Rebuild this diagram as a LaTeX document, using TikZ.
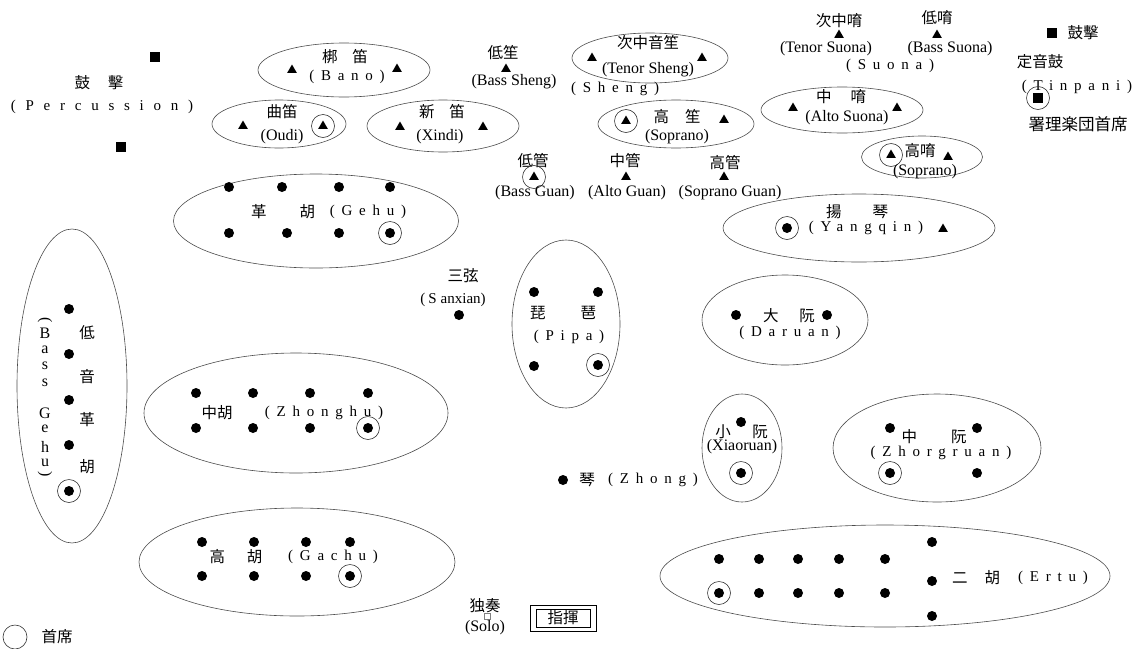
\documentclass[tikz,border=0pt]{standalone}
\usepackage{fontspec}
\setmainfont{Liberation Serif}
\newfontfamily\cjk{Noto Sans CJK JP}
\newfontfamily\lsf{Liberation Serif}[LetterSpace=45]
\newfontfamily\lsfw{Liberation Serif}[LetterSpace=65]
\usetikzlibrary{shapes.geometric}
\begin{document}
\begin{tikzpicture}[x=1pt,y=-1pt,
  ell/.style={draw=black!70, line width=0.6pt, ellipse, inner sep=0pt},
  dot/.style={circle, fill=black, inner sep=0pt, minimum size=10pt},
  tri/.style={regular polygon, regular polygon sides=3, fill=black, inner sep=0pt, minimum size=11pt},
  sq/.style={rectangle, fill=black, inner sep=0pt, minimum size=9.5pt},
  chair/.style={circle, draw=black!80, line width=0.6pt, inner sep=0pt, minimum size=23pt},
  cn/.style={font=\cjk\fontsize{15.5}{15.5}\selectfont, inner sep=0pt},
  en/.style={font=\fontsize{16}{16}\selectfont, inner sep=0pt},
  ls/.style={font=\lsf\fontsize{15}{15}\selectfont, inner sep=0pt},
  lsw/.style={font=\lsfw\fontsize{15}{15}\selectfont, inner sep=0pt},
]
\useasboundingbox (0,0) rectangle (1142,648);
% Percussion (left)
\node[sq] (pq1) at (155,57) {};
\node[cn] (pqcn) at (99,83) {鼓\hspace{18pt}擊};
\node[lsw] (pqen) at (102,107) {(Percussion)};
\node[sq] (pq2) at (121,147) {};
% Bano
\node[ell, minimum width=172pt, minimum height=54pt] (bano) at (344,70) {};
\node[cn] (banocn) at (345,57) {梆\hspace{15pt}笛};
\node[tri] (banot1) at (292,70) {};
\node[tri] (banot2) at (397,69) {};
\node[ls] (banoen) at (347,77) {(Bano)};
% Oudi
\node[ell, minimum width=134pt, minimum height=48pt] (oudi) at (279,124) {};
\node[cn] (oudicn) at (282,112) {曲笛};
\node[tri] (oudit1) at (243,126) {};
\node[en] (oudien) at (282,137) {(Oudi)};
\node[chair] (oudich) at (323,126) {};
\node[tri] (oudit2) at (323,126) {};
% Xindi
\node[ell, minimum width=152pt, minimum height=52pt] (xindi) at (443,126) {};
\node[cn] (xindicn) at (442,112) {新\hspace{15pt}笛};
\node[tri] (xindit1) at (400,127) {};
\node[tri] (xindit2) at (483,127) {};
\node[en] (xindien) at (440,137) {(Xindi)};
% Bass Sheng
\node[cn] (bshcn) at (503,53) {低笙};
\node[tri] (bsht) at (506,69) {};
\node[en] (bshen) at (514,82) {(Bass Sheng)};
% Tenor Sheng
\node[ell, minimum width=156pt, minimum height=50pt] (tsh) at (650,58) {};
\node[cn] (tshcn) at (648,43) {次中音笙};
\node[tri] (tsht1) at (592,58) {};
\node[tri] (tsht2) at (702,58) {};
\node[en] (tshen) at (648,70) {(Tenor Sheng)};
\node[ls] (sheng) at (615,89) {(Sheng)};
% Soprano Sheng
\node[ell, minimum width=156pt, minimum height=48pt] (ssh) at (676,124) {};
\node[chair] (sshch) at (626,121) {};
\node[tri] (ssht1) at (626,121) {};
\node[cn] (sshcn) at (677,117) {高\hspace{16pt}笙};
\node[tri] (ssht2) at (724,120) {};
\node[en] (sshen) at (677,137) {(Soprano)};
% Guan
\node[cn] (bgncn) at (533,161) {低管};
\node[chair] (bgnch) at (534,177) {};
\node[tri] (bgnt) at (534,177) {};
\node[en] (bgnen) at (535,193) {(Bass Guan)};
\node[cn] (agncn) at (625,161) {中管};
\node[tri] (agnt) at (626,177) {};
\node[en] (agnen) at (627,193) {(Alto Guan)};
\node[cn] (sgncn) at (725,163) {高管};
\node[tri] (sgnt) at (724,177) {};
\node[en] (sgnen) at (730,193) {(Soprano Guan)};
% Suona
\node[cn] (tsncn) at (839,21) {次中唷};
\node[tri] (tsnt) at (839,35) {};
\node[en] (tsnen) at (826,49) {(Tenor Suona)};
\node[cn] (bsncn) at (937,18) {低唷};
\node[tri] (bsnt) at (937,35) {};
\node[en] (bsnen) at (950,49) {(Bass Suona)};
\node[ls] (suona) at (890,66) {(Suona)};
\node[ell, minimum width=162pt, minimum height=46pt] (asn) at (842,110) {};
\node[cn] (asncn) at (841,97) {中\hspace{19pt}唷};
\node[tri] (asnt1) at (793,108) {};
\node[tri] (asnt2) at (897,108) {};
\node[en] (asnen) at (847,118) {(Alto Suona)};
\node[ell, minimum width=121pt, minimum height=42pt] (ssn) at (922,157) {};
\node[chair] (ssnch) at (891,155) {};
\node[tri] (ssnt1) at (891,155) {};
\node[cn] (ssncn) at (920,151) {高唷};
\node[tri] (ssnt2) at (948,157) {};
\node[en] (ssnen) at (925,172) {(Soprano)};
% Timpani
\node[sq] (pq3) at (1052,33) {};
\node[cn] (pq3cn) at (1083,33) {鼓擊};
\node[cn] (tmpcn) at (1040,62) {定音鼓};
\node[ls] (tmpen) at (1077,87) {(Tinpani)};
\node[chair] (tmpch) at (1038,98) {};
\node[sq] (tmpsq) at (1038,98) {};
\node[cn, font=\cjk\fontsize{16.5}{16.5}\selectfont] (tmpldr) at (1078,124) {署理楽団首席};
% Gehu
\node[ell, minimum width=285pt, minimum height=94pt] (gehu) at (316,221) {};
\foreach \x [count=\i] in {229,282,339,390} \node[dot] (gehua\i) at (\x,187) {};
\foreach \x [count=\i] in {229,287,339,390} \node[dot] (gehub\i) at (\x,233) {};
\node[chair] (gehuch) at (390,233) {};
\node[cn] (gehucn) at (283,212) {革\hspace{33pt}胡};
\node[ls] (gehuen) at (368,212) {(Gehu)};
% Yangqin
\node[ell, minimum width=272pt, minimum height=68pt] (yq) at (859,228) {};
\node[cn] (yqcn) at (857,212) {揚\hspace{31pt}琴};
\node[chair] (yqch) at (787,228) {};
\node[dot] (yqd) at (787,228) {};
\node[ls] (yqen) at (866,228) {(Yangqin)};
\node[tri] (yqt) at (943,229) {};
% Bass Gehu
\node[ell, minimum width=110pt, minimum height=314pt] (bgh) at (72,386) {};
\foreach \y [count=\i] in {309,354,400,445,491} \node[dot] (bghd\i) at (69,\y) {};
\node[chair] (bghch) at (69,491) {};
\foreach \c/\y [count=\i] in {低/333,音/377,革/420,胡/467} \node[cn] (bghc\i) at (87,\y) {\c};
\foreach \c/\y [count=\i] in {B/333,a/350,s/366,s/383,G/413,e/429,h/447,u/463} \node[ls, font=\fontsize{16}{16}\selectfont] (bghl\i) at (45,\y) {\c};
\node[ls, font=\fontsize{16}{16}\selectfont, rotate=-90] (bghp1) at (45,320) {(};
\node[ls, font=\fontsize{16}{16}\selectfont, rotate=-90] (bghp2) at (45,474) {)};
% Sanxian
\node[cn] (sxcn) at (463,276) {三弦};
\node[en, font=\fontsize{15}{15}\selectfont] (sxen) at (453,300) {(\hspace{3pt}S\hspace{4pt}anxian)};
\node[dot] (sxd) at (459,315) {};
% Pipa
\node[ell, minimum width=108pt, minimum height=168pt] (pipa) at (566,324) {};
\node[dot] (pipad1) at (534,292) {};
\node[dot] (pipad2) at (598,292) {};
\node[dot] (pipad3) at (534,366) {};
\node[dot] (pipad4) at (598,365) {};
\node[chair] (pipach) at (598,365) {};
\node[cn] (pipacn) at (563,313) {琵\hspace{35pt}琶};
\node[ls] (pipaen) at (569,337) {(Pipa)};
% Daruan
\node[ell, minimum width=166pt, minimum height=90pt] (dr) at (785,320) {};
\node[dot] (drd1) at (736,315) {};
\node[dot] (drd2) at (827,315) {};
\node[cn] (drcn) at (789,316) {大\hspace{21pt}阮};
\node[ls] (dren) at (790,333) {(Daruan)};
% Zhonghu
\node[ell, minimum width=304pt, minimum height=120pt] (zh) at (296,413) {};
\foreach \x [count=\i] in {196,253,310,368} \node[dot] (zha\i) at (\x,393) {};
\foreach \x [count=\i] in {196,253,310,368} \node[dot] (zhb\i) at (\x,428) {};
\node[chair] (zhch) at (368,428) {};
\node[cn] (zhcn) at (217,413) {中胡};
\node[ls] (zhen) at (324,413) {(Zhonghu)};
% Xiaoruan
\node[ell, minimum width=80pt, minimum height=108pt] (xr) at (742,448) {};
\node[dot] (xrd1) at (741,422) {};
\node[cn] (xrc1) at (723,432) {小};
\node[cn] (xrc2) at (760,432) {阮};
\node[en] (xren) at (742,447) {(Xiaoruan)};
\node[chair] (xrch) at (741,473) {};
\node[dot] (xrd2) at (741,473) {};
% Zhongruan
\node[ell, minimum width=208pt, minimum height=108pt] (zr) at (937,448) {};
\node[dot] (zrd1) at (890,428) {};
\node[dot] (zrd2) at (977,428) {};
\node[dot] (zrd3) at (890,473) {};
\node[dot] (zrd4) at (977,473) {};
\node[chair] (zrch) at (890,473) {};
\node[cn] (zrcn) at (934,437) {中\hspace{34pt}阮};
\node[ls] (zren) at (941,453) {(Zhorgruan)};
% Zhong
\node[dot] (zgd) at (563,480) {};
\node[cn] (zgcn) at (587,480) {琴};
\node[ls] (zgen) at (653,480) {(Zhong)};
% Gachu
\node[ell, minimum width=316pt, minimum height=108pt] (gc) at (297,562) {};
\foreach \x [count=\i] in {202,254,306,350} \node[dot] (gca\i) at (\x,542) {};
\foreach \x [count=\i] in {202,254,306,350} \node[dot] (gcb\i) at (\x,576) {};
\node[chair] (gcch) at (350,576) {};
\node[cn] (gccn) at (236,557) {高\hspace{22pt}胡};
\node[ls] (gcen) at (333,557) {(Gachu)};
% Ertu
\node[ell, minimum width=450pt, minimum height=102pt] (et) at (885,576) {};
\foreach \x [count=\i] in {719,759,798,839,885} \node[dot] (eta\i) at (\x,559) {};
\foreach \x [count=\i] in {719,759,798,839,885} \node[dot] (etb\i) at (\x,593) {};
\node[chair] (etch) at (719,593) {};
\foreach \y [count=\i] in {542,581,616} \node[dot] (etc\i) at (932,\y) {};
\node[cn] (etcn) at (976,578) {二\hspace{17pt}胡};
\node[ls] (eten) at (1053,578) {(Ertu)};
% Solo and conductor
\node[cn] (solocn) at (485,606) {独奏};
\node[draw=black!50, line width=0.4pt, inner sep=0pt, minimum size=6pt] (solosq) at (487,616) {};
\node[en] (soloen) at (485,628) {(Solo)};
\node[draw, line width=0.8pt, inner sep=0pt, minimum width=66pt, minimum height=26pt] (condo) at (563,618) {};
\node[cn, draw, line width=0.8pt, minimum width=54pt, minimum height=18pt] (cond) at (563,618) {指揮};
% Legend
\node[chair, minimum size=24pt] (lgch) at (15,637) {};
\node[cn] (lgcn) at (57,637) {首席};
\end{tikzpicture}
\end{document}
